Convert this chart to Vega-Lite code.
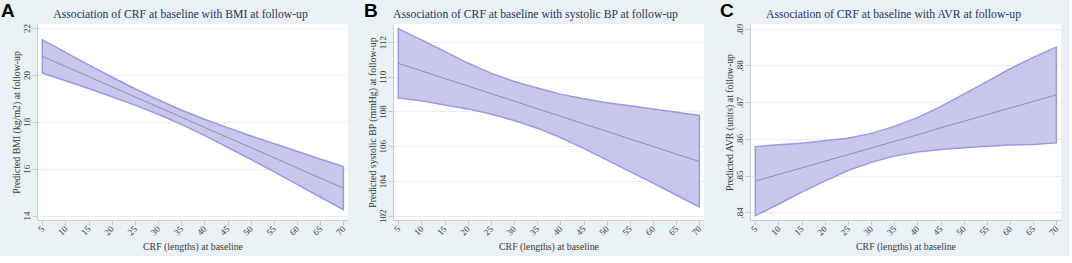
{
  "$schema": "https://vega.github.io/schema/vega-lite/v6.json",
  "background": "#e9f1f4",
  "padding": {"left": 1, "top": 2, "right": 8, "bottom": 4},
  "spacing": 16,
  "datasets": {
    "A": [
      {"x": 5, "lo": 20.08, "hi": 21.50, "m": 20.79},
      {"x": 10, "lo": 19.75, "hi": 20.96, "m": 20.36},
      {"x": 15, "lo": 19.42, "hi": 20.43, "m": 19.93},
      {"x": 20, "lo": 19.07, "hi": 19.91, "m": 19.49},
      {"x": 25, "lo": 18.71, "hi": 19.41, "m": 19.06},
      {"x": 30, "lo": 18.32, "hi": 18.94, "m": 18.63},
      {"x": 35, "lo": 17.89, "hi": 18.50, "m": 18.20},
      {"x": 40, "lo": 17.42, "hi": 18.11, "m": 17.76},
      {"x": 45, "lo": 16.91, "hi": 17.75, "m": 17.33},
      {"x": 50, "lo": 16.40, "hi": 17.40, "m": 16.90},
      {"x": 55, "lo": 15.87, "hi": 17.07, "m": 16.47},
      {"x": 60, "lo": 15.33, "hi": 16.74, "m": 16.03},
      {"x": 65, "lo": 14.79, "hi": 16.41, "m": 15.60},
      {"x": 70, "lo": 14.25, "hi": 16.09, "m": 15.17}
    ],
    "B": [
      {"x": 5, "lo": 108.77, "hi": 112.77, "m": 110.77},
      {"x": 10, "lo": 108.62, "hi": 112.13, "m": 110.34},
      {"x": 15, "lo": 108.38, "hi": 111.46, "m": 109.90},
      {"x": 20, "lo": 108.15, "hi": 110.79, "m": 109.47},
      {"x": 25, "lo": 107.85, "hi": 110.21, "m": 109.03},
      {"x": 30, "lo": 107.48, "hi": 109.73, "m": 108.60},
      {"x": 35, "lo": 107.04, "hi": 109.35, "m": 108.16},
      {"x": 40, "lo": 106.50, "hi": 109.00, "m": 107.73},
      {"x": 45, "lo": 105.88, "hi": 108.73, "m": 107.29},
      {"x": 50, "lo": 105.21, "hi": 108.50, "m": 106.86},
      {"x": 55, "lo": 104.54, "hi": 108.33, "m": 106.42},
      {"x": 60, "lo": 103.87, "hi": 108.15, "m": 105.99},
      {"x": 65, "lo": 103.19, "hi": 107.96, "m": 105.55},
      {"x": 70, "lo": 102.50, "hi": 107.77, "m": 105.12}
    ],
    "C": [
      {"x": 5, "lo": 0.8391, "hi": 0.8579, "m": 0.8485},
      {"x": 10, "lo": 0.8422, "hi": 0.8584, "m": 0.8503},
      {"x": 15, "lo": 0.8455, "hi": 0.8588, "m": 0.8521},
      {"x": 20, "lo": 0.8485, "hi": 0.8595, "m": 0.8539},
      {"x": 25, "lo": 0.8514, "hi": 0.8602, "m": 0.8557},
      {"x": 30, "lo": 0.8536, "hi": 0.8615, "m": 0.8575},
      {"x": 35, "lo": 0.8553, "hi": 0.8634, "m": 0.8593},
      {"x": 40, "lo": 0.8564, "hi": 0.8658, "m": 0.8611},
      {"x": 45, "lo": 0.8571, "hi": 0.8688, "m": 0.8630},
      {"x": 50, "lo": 0.8576, "hi": 0.8722, "m": 0.8648},
      {"x": 55, "lo": 0.8580, "hi": 0.8756, "m": 0.8666},
      {"x": 60, "lo": 0.8583, "hi": 0.8791, "m": 0.8684},
      {"x": 65, "lo": 0.8585, "hi": 0.8822, "m": 0.8702},
      {"x": 70, "lo": 0.8589, "hi": 0.8850, "m": 0.8720}
    ]
  },
  "config": {
    "view": {"fill": "white", "stroke": null},
    "font": "Liberation Serif",
    "axis": {
      "labelFont": "Liberation Serif", "titleFont": "Liberation Serif",
      "labelColor": "#3a3a3a", "titleColor": "#3a3a3a",
      "labelFontSize": 9, "titleFontSize": 9.8, "titleFontWeight": "normal",
      "domainColor": "#c4ccd0", "tickColor": "#c4ccd0", "tickSize": 5,
      "gridColor": "#e6eff2", "gridWidth": 1, "labelOverlap": false
    },
    "axisY": {"labelOverlap": false, "labelAngle": -90, "labelAlign": "center", "labelBaseline": "bottom", "labelPadding": 1, "titlePadding": 1, "grid": true},
    "title": {"font": "Liberation Sans", "fontSize": 19, "fontWeight": "bold", "color": "#000000", "anchor": "start", "frame": "bounds", "offset": -13}
  },
  "hconcat": [
    {
      "title": {"text": "A", "dx": -10},
      "width": 311, "height": 196,
      "data": {"name": "A"},
      "resolve": {"axis": {"x": "independent"}},
      "layer": [
        {
          "mark": {"type": "area", "fill": "#c6c7ea", "stroke": "#9a9ae0", "strokeWidth": 1.5},
          "encoding": {
            "x": {"field": "x", "type": "quantitative", "scale": {"domain": [3.85, 71], "nice": false, "zero": false},
                  "axis": {"orient": "bottom", "title": "CRF (lengths) at baseline", "values": [5,10,15,20,25,30,35,40,45,50,55,60,65,70], "labelAngle": -45, "labelAlign": "right", "labelBaseline": "middle", "grid": false, "labelPadding": 2, "titlePadding": 5, "labelOverlap": false}},
            "y": {"field": "lo", "type": "quantitative", "scale": {"domain": [13.81, 22.17], "nice": false, "zero": false},
                  "axis": {"title": "Predicted BMI (kg/m2) at follow-up", "values": [14,16,18,20,22], "labelOverlap": false}},
            "y2": {"field": "hi"}
          }
        },
        {
          "mark": {"type": "line", "color": "#8c8cb6", "strokeWidth": 1},
          "encoding": {
            "x": {"field": "x", "type": "quantitative", "axis": {"orient": "top", "title": "Association of CRF at baseline with BMI at follow-up", "labels": false, "ticks": false, "domain": false, "grid": false, "titleFontSize": 11.7, "titleColor": "#2a3560", "titleX": 143, "titleAlign": "center", "titlePadding": 5}},
            "y": {"field": "m", "type": "quantitative", "axis": {"title": "Predicted BMI (kg/m2) at follow-up", "values": [14,16,18,20,22], "labelOverlap": false}}
          }
        }
      ]
    },
    {
      "title": {"text": "B", "dx": -3},
      "width": 311, "height": 196,
      "data": {"name": "B"},
      "resolve": {"axis": {"x": "independent"}},
      "layer": [
        {
          "mark": {"type": "area", "fill": "#c6c7ea", "stroke": "#9a9ae0", "strokeWidth": 1.5},
          "encoding": {
            "x": {"field": "x", "type": "quantitative", "scale": {"domain": [3.85, 71], "nice": false, "zero": false},
                  "axis": {"orient": "bottom", "title": "CRF (lengths) at baseline", "values": [5,10,15,20,25,30,35,40,45,50,55,60,65,70], "labelAngle": -45, "labelAlign": "right", "labelBaseline": "middle", "grid": false, "labelPadding": 2, "titlePadding": 5, "labelOverlap": false}},
            "y": {"field": "lo", "type": "quantitative", "scale": {"domain": [101.75, 113.04], "nice": false, "zero": false},
                  "axis": {"title": "Predicted systolic BP (mmHg) at follow-up", "values": [102,104,106,108,110,112], "labelOverlap": false}},
            "y2": {"field": "hi"}
          }
        },
        {
          "mark": {"type": "line", "color": "#8c8cb6", "strokeWidth": 1},
          "encoding": {
            "x": {"field": "x", "type": "quantitative", "axis": {"orient": "top", "title": "Association of CRF at baseline with systolic BP at follow-up", "labels": false, "ticks": false, "domain": false, "grid": false, "titleFontSize": 11.7, "titleColor": "#2a3560", "titleX": 142, "titleAlign": "center", "titlePadding": 5}},
            "y": {"field": "m", "type": "quantitative", "axis": {"title": "Predicted systolic BP (mmHg) at follow-up", "values": [102,104,106,108,110,112], "labelOverlap": false}}
          }
        }
      ]
    },
    {
      "title": {"text": "C", "dx": -4},
      "width": 311, "height": 196,
      "data": {"name": "C"},
      "resolve": {"axis": {"x": "independent"}},
      "layer": [
        {
          "mark": {"type": "area", "fill": "#c6c7ea", "stroke": "#9a9ae0", "strokeWidth": 1.5},
          "encoding": {
            "x": {"field": "x", "type": "quantitative", "scale": {"domain": [3.85, 71], "nice": false, "zero": false},
                  "axis": {"orient": "bottom", "title": "CRF (lengths) at baseline", "values": [5,10,15,20,25,30,35,40,45,50,55,60,65,70], "labelAngle": -45, "labelAlign": "right", "labelBaseline": "middle", "grid": false, "labelPadding": 2, "titlePadding": 5, "labelOverlap": false}},
            "y": {"field": "lo", "type": "quantitative", "scale": {"domain": [0.8379, 0.8913], "nice": false, "zero": false},
                  "axis": {"title": "Predicted AVR (units) at follow-up", "values": [0.84,0.85,0.86,0.87,0.88,0.89], "labelExpr": "replace(format(datum.value, '.2f'), '0.', '.')", "labelOverlap": false}},
            "y2": {"field": "hi"}
          }
        },
        {
          "mark": {"type": "line", "color": "#8c8cb6", "strokeWidth": 1},
          "encoding": {
            "x": {"field": "x", "type": "quantitative", "axis": {"orient": "top", "title": "Association of CRF at baseline with AVR at follow-up", "labels": false, "ticks": false, "domain": false, "grid": false, "titleFontSize": 11.7, "titleColor": "#2a3560", "titleX": 143, "titleAlign": "center", "titlePadding": 5}},
            "y": {"field": "m", "type": "quantitative", "axis": {"title": "Predicted AVR (units) at follow-up", "values": [0.84,0.85,0.86,0.87,0.88,0.89], "labelExpr": "replace(format(datum.value, '.2f'), '0.', '.')", "labelOverlap": false}}
          }
        }
      ]
    }
  ]
}
